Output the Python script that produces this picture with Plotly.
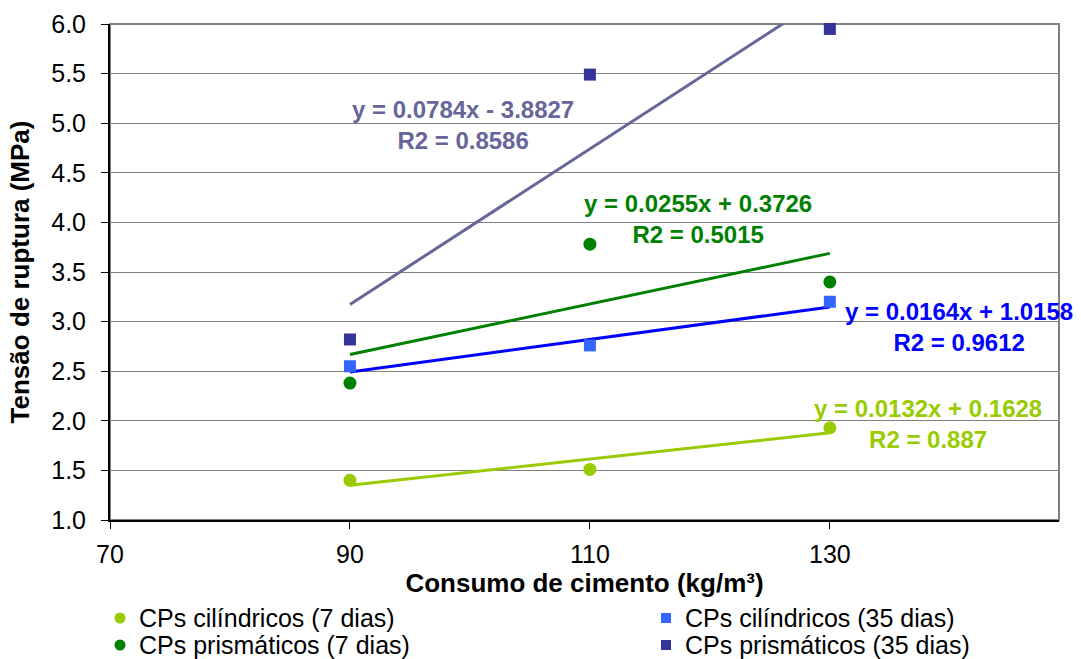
import plotly.graph_objects as go

# Cement consumption (kg/m³)
consumo = [90, 110, 130]

# Measured rupture stress (MPa) per specimen series
cil_7 = [1.40, 1.51, 1.93]
cil_35 = [2.55, 2.76, 3.20]
pri_7 = [2.38, 3.78, 3.40]
pri_35 = [2.82, 5.49, 5.95]

# Linear trendline coefficients (slope, intercept) and R²
trend_cil_7 = (0.0132, 0.1628, 0.887)
trend_cil_35 = (0.0164, 1.0158, 0.9612)
trend_pri_7 = (0.0255, 0.3726, 0.5015)
trend_pri_35 = (0.0784, -3.8827, 0.8586)

x_ticks = [70, 90, 110, 130]
y_ticks = [1.0, 1.5, 2.0, 2.5, 3.0, 3.5, 4.0, 4.5, 5.0, 5.5, 6.0]

FONT = "Liberation Sans, Arial, sans-serif"

W, H = 1081, 659
M_L, M_R, M_T, M_B = 110, 22, 24, 139
PW, PH = W - M_L - M_R, H - M_T - M_B

series = [
    # name, values, symbol, marker colour, trend, line colour, label colour, label position, legend slot
    ("CPs cilíndricos (7 dias)", cil_7, "circle", "#99CC00", trend_cil_7, "#99CC00", "#99CC00", (138.2, 1.97), (0, 0)),
    ("CPs cilíndricos (35 dias)", cil_35, "square", "#3366FF", trend_cil_35, "#0000FF", "#0000FF", (140.8, 2.95), (1, 0)),
    ("CPs prismáticos (7 dias)", pri_7, "circle", "#008000", trend_pri_7, "#008000", "#008000", (119.0, 4.03), (0, 1)),
    ("CPs prismáticos (35 dias)", pri_35, "square", "#333399", trend_pri_35, "#666699", "#666699", (99.4, 4.98), (1, 1)),
]

fig = go.Figure()

# Trendlines first so markers sit on top
for name, vals, sym, mcol, (a, b, r2), lcol, tcol, pos, slot in series:
    xs = [consumo[0], consumo[-1]]
    ys = [a * x + b for x in xs]
    fig.add_trace(go.Scatter(x=xs, y=ys, mode="lines",
                             line=dict(color=lcol, width=3),
                             showlegend=False, hoverinfo="skip"))

for name, vals, sym, mcol, trend, lcol, tcol, pos, slot in series:
    fig.add_trace(go.Scatter(x=consumo, y=vals, mode="markers", name=name,
                             marker=dict(symbol=sym, color=mcol,
                                         size=13 if sym == "circle" else 12),
                             showlegend=False, cliponaxis=False))

# Trendline equations
for name, vals, sym, mcol, (a, b, r2), lcol, tcol, pos, slot in series:
    sign = "+" if b >= 0 else "-"
    text = f"y = {a}x {sign} {abs(b)}<br>R2 = {r2}"
    fig.add_annotation(x=pos[0], y=pos[1], xref="x", yref="y", text=text,
                       showarrow=False, align="center",
                       font=dict(family=FONT, size=24, color=tcol, weight="bold"))

# Two-column legend below the axis title
legend_cols_px = [120, 666]
legend_rows_px = [618, 645]
for name, vals, sym, mcol, trend, lcol, tcol, pos, (col, row) in series:
    px, py = legend_cols_px[col], legend_rows_px[row]
    xp = (px - M_L) / PW
    yp = (H - M_B - py) / PH
    half = 5.5 if sym == "circle" else 5
    fig.add_shape(type="circle" if sym == "circle" else "rect",
                  xref="paper", yref="paper", xsizemode="pixel", ysizemode="pixel",
                  xanchor=xp, yanchor=yp, x0=-half, x1=half, y0=-half, y1=half,
                  fillcolor=mcol, line=dict(width=0))
    fig.add_annotation(x=xp, y=yp, xref="paper", yref="paper", xshift=17,
                       text=name, showarrow=False, xanchor="left", yanchor="middle",
                       font=dict(family=FONT, size=25, color="black"))

# Grey frame around the plot area
fig.add_shape(type="rect", xref="paper", yref="paper", x0=0, y0=0, x1=1, y1=1,
              line=dict(color="#808080", width=2), layer="below")

fig.update_layout(
    width=W, height=H,
    margin=dict(l=M_L, r=M_R, t=M_T, b=M_B),
    paper_bgcolor="white", plot_bgcolor="white",
    font=dict(family=FONT, size=25, color="black"),
    showlegend=False,
    xaxis=dict(range=[70, 149.1], tickvals=x_ticks, showgrid=False, zeroline=False,
               showline=True, linecolor="black", linewidth=2,
               ticks="outside", ticklen=7, tickcolor="black", ticklabelstandoff=4,
               automargin=False,
               title=dict(text="<b>Consumo de cimento (kg/m³)</b>", standoff=4,
                          font=dict(size=26))),
    yaxis=dict(range=[1.0, 6.0], tickvals=y_ticks, tickformat=".1f",
               showgrid=True, gridcolor="#808080", gridwidth=1, zeroline=False,
               showline=True, linecolor="black", linewidth=2,
               ticks="outside", ticklen=7, tickcolor="black", ticklabelstandoff=10,
               automargin=False,
               title=dict(text="<b>Tensão de ruptura (MPa)</b>", standoff=14,
                          font=dict(size=26))),
)

fig.write_html("out.html")
